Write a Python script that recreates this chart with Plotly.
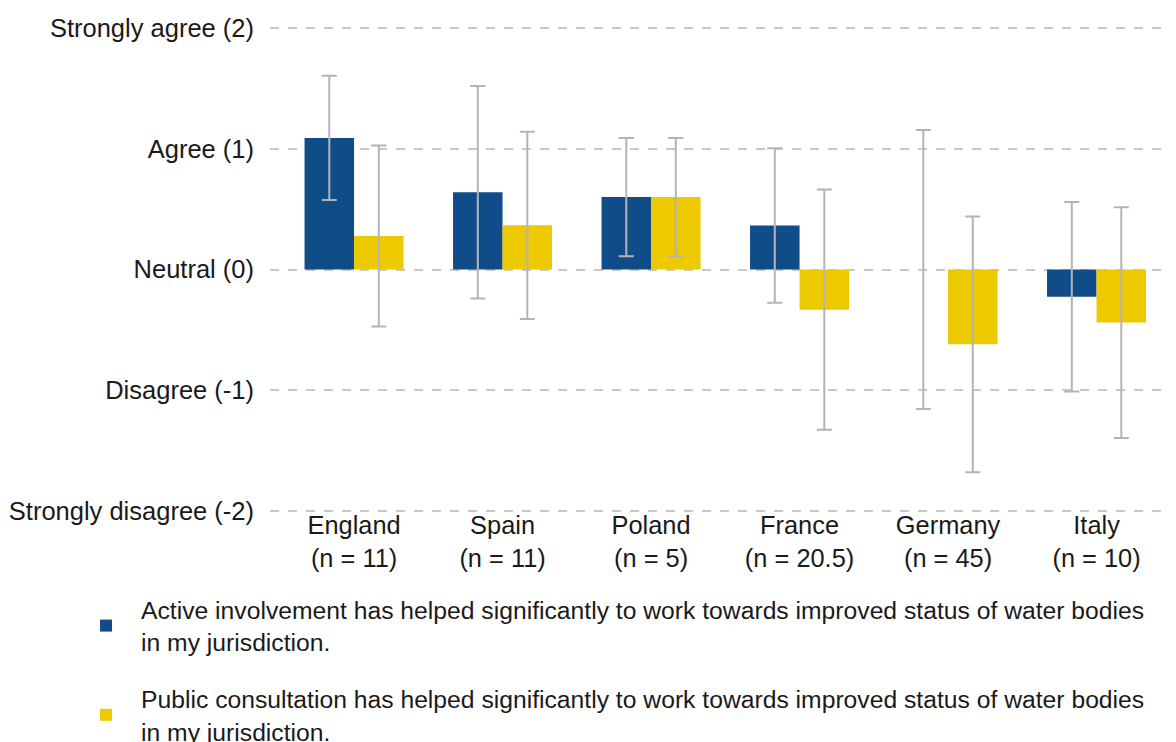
import plotly.graph_objects as go

countries = ['England<br>(n = 11)', 'Spain<br>(n = 11)', 'Poland<br>(n = 5)',
             'France<br>(n = 20.5)', 'Germany<br>(n = 45)', 'Italy<br>(n = 10)']

active_mean = [1.09, 0.64, 0.60, 0.365, 0.0, -0.225]
active_err = [0.515, 0.88, 0.49, 0.64, 1.155, 0.785]

public_mean = [0.277, 0.366, 0.60, -0.333, -0.62, -0.44]
public_err = [0.75, 0.775, 0.49, 0.995, 1.06, 0.955]

tick_vals = [2, 1, 0, -1, -2]
tick_text = ['Strongly agree (2)', 'Agree (1)', 'Neutral (0)', 'Disagree (-1)', 'Strongly disagree (-2)']

active_label = ('Active involvement has helped significantly to work towards improved status of water bodies'
                '<br>in my jurisdiction.')
public_label = ('Public consultation has helped significantly to work towards improved status of water bodies'
                '<br>in my jurisdiction.')

err_style = dict(type='data', visible=True, color='#b4b4b4', thickness=2, width=7.5)

fig = go.Figure()
fig.add_trace(go.Bar(
    x=countries, y=active_mean, name=active_label, legendgroup='a',
    marker=dict(color='#0F4C88', line=dict(width=0)),
    error_y=dict(array=active_err, **err_style)
))
fig.add_trace(go.Bar(
    x=countries, y=public_mean, name=public_label, legendgroup='b',
    marker=dict(color='#EDC900', line=dict(width=0)),
    error_y=dict(array=public_err, **err_style)
))

# page body adds an 8px offset, so margins are shifted back by 8
fig.update_layout(
    width=1176, height=742,
    margin=dict(l=262, r=8, t=14, b=233, autoexpand=False),
    barmode='group', bargap=1/3, bargroupgap=0,
    plot_bgcolor='white', paper_bgcolor='white',
    font=dict(family='Liberation Sans, Arial', size=25, color='#1a1a1a'),
    showlegend=True,
    legend=dict(
        xref='container', yref='container',
        x=0.0536, xanchor='left', y=0.2197, yanchor='top',
        font=dict(size=24.7, color='#1a1a1a'),
        tracegroupgap=22, itemwidth=60, itemsizing='constant',
        bgcolor='rgba(0,0,0,0)'
    ),
)

fig.update_xaxes(range=[-0.566, 5.535], showgrid=False, showline=False, ticks='',
                 tickfont=dict(size=25.4), ticklabelstandoff=-9)
fig.update_yaxes(range=[-2.05, 2.05], tickvals=tick_vals, ticktext=tick_text,
                 showgrid=True, gridcolor='#c8c8c8', gridwidth=1.5, griddash='dash',
                 zeroline=False, showline=False, ticks='', ticklabelstandoff=15,
                 tickfont=dict(size=25.5))

fig.write_html("out.html")
